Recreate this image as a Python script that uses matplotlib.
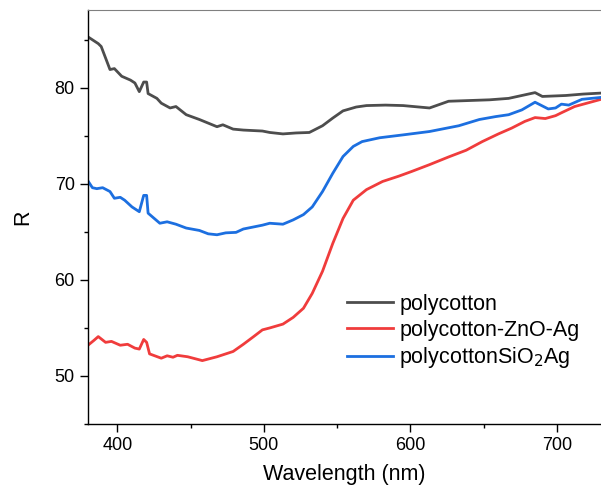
import numpy as np
import matplotlib.pyplot as plt
from matplotlib.ticker import MultipleLocator

plt.rcParams['font.family'] = ['Liberation Sans', 'DejaVu Sans']

# Reflectance spectra
wl_poly = [380, 383, 387, 389, 392, 395, 398, 403, 409, 412, 415, 418, 420, 421, 427, 430, 436, 440,
           447, 456, 468, 472, 479, 486, 499, 504, 513, 522, 531, 540, 547, 554, 563, 570, 583,
           595, 613, 626, 654, 667, 685, 690, 706, 718, 730]
R_poly = [85.3, 85.0, 84.6, 84.3, 83.1, 81.9, 82.0, 81.2, 80.8, 80.5, 79.6, 80.6, 80.6, 79.4, 78.9,
          78.4, 77.9, 78.05, 77.2, 76.7, 75.95, 76.15, 75.7, 75.6, 75.5, 75.35, 75.2, 75.3, 75.35,
          76.05, 76.85, 77.6, 78.0, 78.15, 78.2, 78.15, 77.9, 78.6, 78.75, 78.9, 79.5, 79.1, 79.2,
          79.35, 79.45]

wl_zno = [380, 384, 387, 392, 396, 402, 407, 412, 415, 418, 420, 422, 430, 434, 438, 441, 448,
          453, 458, 468, 474, 479, 486, 493, 499, 504, 513, 520, 527, 533, 540, 547, 554, 561,
          570, 581, 592, 601, 613, 626, 638, 649, 660, 669, 678, 685, 692, 699, 703, 712, 730]
R_zno = [53.2, 53.7, 54.1, 53.5, 53.6, 53.2, 53.3, 52.9, 52.8, 53.8, 53.5, 52.3, 51.85, 52.1,
         51.95, 52.15, 52.0, 51.8, 51.6, 52.0, 52.3, 52.55, 53.3, 54.1, 54.8, 55.0, 55.4, 56.1,
         57.05, 58.6, 60.9, 63.8, 66.4, 68.3, 69.4, 70.25, 70.8, 71.3, 72.0, 72.8, 73.5, 74.4,
         75.2, 75.8, 76.5, 76.9, 76.8, 77.1, 77.4, 78.05, 78.8]

wl_sio2 = [380, 383, 386, 390, 395, 398, 402, 405, 410, 415, 418, 420, 421, 429, 434, 440, 447,
           456, 462, 468, 474, 481, 486, 499, 504, 513, 520, 527, 533, 540, 547, 554, 561, 567,
           579, 595, 613, 633, 647, 658, 667, 676, 685, 694, 699, 703, 708, 717, 730]
R_sio2 = [70.3, 69.6, 69.5, 69.6, 69.2, 68.5, 68.6, 68.3, 67.6, 67.1, 68.8, 68.8, 66.95, 65.9,
          66.05, 65.8, 65.4, 65.15, 64.8, 64.7, 64.9, 64.95, 65.3, 65.7, 65.9, 65.8, 66.25, 66.8,
          67.6, 69.2, 71.1, 72.85, 73.9, 74.4, 74.8, 75.1, 75.45, 76.05, 76.7, 77.0, 77.2, 77.7,
          78.5, 77.8, 77.9, 78.3, 78.2, 78.8, 79.0]

fig = plt.figure(figsize=(6.01, 4.9), dpi=100)
ax = fig.add_axes([88/601, 1-424/490, 1-88/601, 414/490])

ax.plot(wl_poly, R_poly, color='#4d4d4d', lw=2.0, label='polycotton')
ax.plot(wl_zno, R_zno, color='#f03c3c', lw=2.0, label='polycotton-ZnO-Ag')
ax.plot(wl_sio2, R_sio2, color='#1c6fe0', lw=2.0, label='polycottonSiO$_2$Ag')

ax.set_xlim(380, 730)
ax.set_ylim(45, 88.1)
ax.xaxis.set_major_locator(MultipleLocator(100))
ax.xaxis.set_minor_locator(MultipleLocator(50))
ax.yaxis.set_major_locator(MultipleLocator(10))
ax.yaxis.set_minor_locator(MultipleLocator(5))
ax.tick_params(which='major', direction='out', length=5.5, width=1, labelsize=13, pad=4)
ax.tick_params(which='minor', direction='out', length=3, width=1)

ax.spines['right'].set_visible(False)
ax.spines['top'].set_color('#808080')
ax.spines['left'].set_linewidth(1)
ax.spines['bottom'].set_linewidth(1)

ax.set_xlabel('Wavelength (nm)', fontsize=15.5, labelpad=7)
ax.set_ylabel('R', fontsize=15.5, labelpad=15)

ax.legend(loc='upper left', bbox_to_anchor=(347/601, 1-294/490), bbox_transform=fig.transFigure,
          frameon=False, fontsize=15.5, handlelength=2.15, handletextpad=0.27,
          labelspacing=0.22, borderpad=0, borderaxespad=0)

plt.savefig('out.png', dpi=100)
